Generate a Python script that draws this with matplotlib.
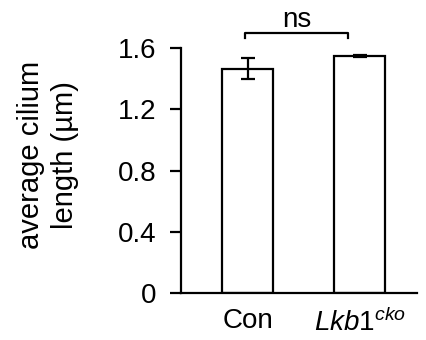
import numpy as np
import matplotlib.pyplot as plt

plt.rcParams['font.family'] = ['Liberation Sans', 'DejaVu Sans']
plt.rcParams['mathtext.fontset'] = 'custom'
plt.rcParams['mathtext.it'] = 'Liberation Sans:italic'
plt.rcParams['mathtext.rm'] = 'Liberation Sans'

# data
groups = ['Con', r'$\mathit{Lkb1}^{\mathit{cko}}$']
means = [1.465, 1.55]
errs = [0.07, 0.006]
yticks = [0, 0.4, 0.8, 1.2, 1.6]
ytick_labels = ['0', '0.4', '0.8', '1.2', '1.6']

fig = plt.figure(figsize=(4.26, 3.4), dpi=100)
ax = fig.add_axes([0.425, 0.138, 0.554, 0.811])

x = np.arange(len(groups))
ax.bar(x, means, width=0.455, color='white', edgecolor='black', linewidth=1.6)
ax.errorbar(x, means, yerr=errs, fmt='none', ecolor='black', elinewidth=1.6,
            capsize=5, capthick=1.6)

# significance bracket
x1, x2 = -0.02, 0.9
ax.plot([x1, x1, x2, x2], [1.665, 1.70, 1.70, 1.665], color='black', lw=1.6,
        clip_on=False)
ax.text((x1 + x2) / 2, 1.785, 'ns', ha='center', va='center', fontsize=20)

ax.set_xlim(-0.594, 1.513)
ax.set_ylim(0, 1.8)
ax.set_yticks(yticks)
ax.set_yticklabels(ytick_labels)
ax.set_xticks(x)
ax.set_xticklabels(groups)
ax.tick_params(axis='y', length=8, width=1.6, labelsize=20, pad=10)
ax.tick_params(axis='x', length=0, labelsize=20, pad=11)
for s in ['top', 'right']:
    ax.spines[s].set_visible(False)
ax.spines['left'].set_bounds(0, 1.6)
ax.spines['left'].set_linewidth(1.6)
ax.spines['bottom'].set_linewidth(1.6)
ax.set_ylabel('average cilium\nlength (µm)', fontsize=21, labelpad=28,
              linespacing=1.25)

fig.savefig('out.png', dpi=100)
